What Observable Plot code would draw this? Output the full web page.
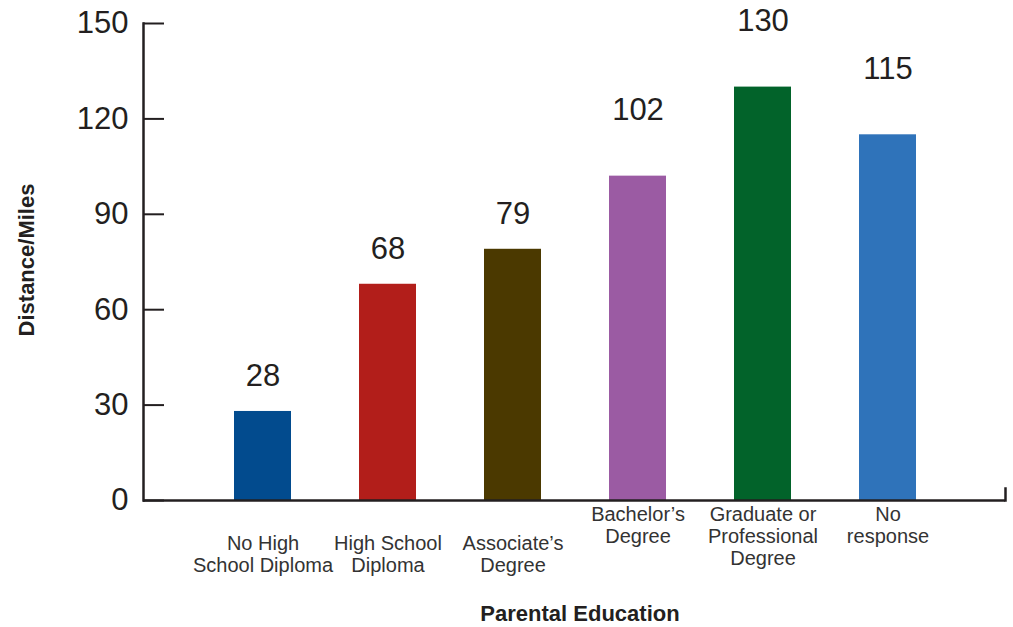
<!DOCTYPE html>
<html><head><meta charset="utf-8">
<script src="https://cdn.jsdelivr.net/npm/d3@7"></script>
<script src="https://cdn.jsdelivr.net/npm/@observablehq/plot@0.6"></script>
<style>body{margin:0;background:#fff} svg{display:block}</style>
</head><body><div id="chart"></div>
<script>
const categories = ["No High School Diploma","High School Diploma","Associate's Degree","Bachelor's Degree","Graduate or Professional Degree","No response"];
const categoryLabels = ["No High\nSchool Diploma","High School\nDiploma","Associate’s\nDegree","Bachelor’s\nDegree","Graduate or\nProfessional\nDegree","No\nresponse"];
const distances = [28,68,79,102,130,115];
const barColors = ["#024b8e","#b21e1a","#4b3900","#9b5ba3","#02632a","#2f73ba"];
const yTicks = [0,30,60,90,120,150];
const xTitle = "Parental Education";
const yTitle = "Distance/Miles";

const data = categories.map((c,i)=>({category:c, label:categoryLabels[i], value:distances[i], color:barColors[i]}));
const low = data.slice(0,3), high = data.slice(3);
const ink = "#231f20";
const font = "'Liberation Sans', Arial, sans-serif";

const chart = Plot.plot({
  width: 1013, height: 627,
  marginTop: 23, marginBottom: 127, marginLeft: 143, marginRight: 8,
  style: {fontFamily: font, color: ink, background: "#fff", overflow: "visible"},
  x: {domain: categories, range: [233, 917], paddingInner: 0.545, paddingOuter: 0, axis: null},
  y: {domain: [0,150], axis: null},
  marks: [
    Plot.barY(data, {x:"category", y:"value", fill:"color"}),
    Plot.ruleY(yTicks, {y: d=>d, insetRight: 841, stroke: ink, strokeWidth: 2}),
    Plot.ruleY([0], {stroke: ink, strokeWidth: 2.5}),
    Plot.frame({anchor:"left", stroke: ink, strokeWidth: 2.5}),
    Plot.frame({anchor:"right", insetTop: 465, stroke: ink, strokeWidth: 2.5}),
    Plot.text(yTicks, {y: d=>d, text: d=>String(d), frameAnchor:"left", textAnchor:"end", dx:-15, fontSize:31, fill: ink}),
    Plot.text(low, {x:"category", y:"value", text: d=>String(d.value), dy:-35, fontSize:31, fill: ink}),
    Plot.text(high, {x:"category", y:"value", text: d=>String(d.value), dy:-66, fontSize:31, fill: ink}),
    Plot.text(low, {x:"category", text:"label", frameAnchor:"bottom", lineAnchor:"top", dy:34, fontSize:20, lineHeight:1.1, fill:"#333"}),
    Plot.text(high, {x:"category", text:"label", frameAnchor:"bottom", lineAnchor:"top", dy:5, fontSize:20, lineHeight:1.1, fill:"#333"}),
    Plot.text([xTitle], {text: d=>d, frameAnchor:"bottom", lineAnchor:"top", dx:5.5, dy:105, fontSize:22, fontWeight:"bold", fill: ink}),
    Plot.text([yTitle], {text: d=>d, frameAnchor:"left", textAnchor:"middle", rotate:-90, dx:-117, dy:-2, fontSize:22, fontWeight:"bold", fill: ink})
  ]
});
document.getElementById("chart").appendChild(chart);
</script>
</body></html>
